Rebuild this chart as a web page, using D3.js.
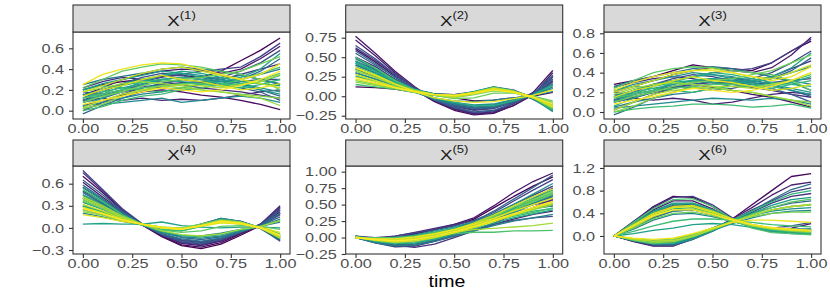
<!DOCTYPE html>
<html lang="en">
<head>
<meta charset="utf-8" />
<title>Functional covariates</title>
<script src="https://cdn.jsdelivr.net/npm/d3@7"></script>
<style>
  body { margin: 0; background: #fff; }
  text { font-family: "Liberation Sans", Arial, sans-serif; }
</style>
</head>
<body>
<div id="chart"></div>
<script>

    // time grid shared by every curve
    let times = [0, 0.1, 0.2, 0.3, 0.4, 0.5, 0.6, 0.7, 0.8, 0.9, 1.0];
    let xTicks = [0, 0.25, 0.5, 0.75, 1];

    let x1 = [
        [0.20,0.25,0.28,0.30,0.33,0.34,0.32,0.38,0.48,0.58,0.70],
        [0.05,0.10,0.15,0.18,0.20,0.18,0.15,0.13,0.10,0.06,0.01],
        [0.15,0.22,0.30,0.35,0.38,0.40,0.39,0.36,0.40,0.50,0.62],
        [0.10,0.12,0.10,0.12,0.10,0.11,0.10,0.12,0.15,0.18,0.20],
        [0.22,0.28,0.32,0.30,0.28,0.25,0.22,0.20,0.18,0.15,0.12],
        [0.00,0.08,0.16,0.22,0.25,0.27,0.28,0.30,0.35,0.40,0.45],
        [0.12,0.20,0.25,0.28,0.32,0.35,0.38,0.40,0.42,0.52,0.65],
        [0.18,0.16,0.20,0.24,0.22,0.20,0.22,0.25,0.28,0.30,0.30],
        [0.10,0.18,0.26,0.32,0.36,0.34,0.30,0.32,0.38,0.46,0.58],
        [0.08,0.12,0.18,0.22,0.26,0.30,0.28,0.25,0.22,0.18,0.10],
        [-0.03,0.05,0.12,0.18,0.24,0.26,0.27,0.28,0.30,0.38,0.50],
        [0.16,0.14,0.18,0.22,0.26,0.30,0.33,0.30,0.26,0.20,0.14],
        [0.25,0.30,0.33,0.36,0.40,0.42,0.40,0.38,0.35,0.30,0.25],
        [0.10,0.15,0.20,0.25,0.30,0.32,0.30,0.28,0.30,0.35,0.40],
        [0.04,0.08,0.12,0.16,0.18,0.22,0.26,0.30,0.34,0.30,0.26],
        [0.02,0.06,0.08,0.10,0.12,0.08,0.10,0.12,0.14,0.12,0.08],
        [0.15,0.20,0.26,0.30,0.34,0.36,0.34,0.30,0.26,0.22,0.18],
        [0.20,0.26,0.30,0.34,0.38,0.36,0.32,0.28,0.24,0.20,0.16],
        [0.20,0.24,0.22,0.26,0.30,0.28,0.26,0.28,0.32,0.40,0.55],
        [0.05,0.12,0.20,0.28,0.34,0.38,0.36,0.32,0.28,0.26,0.24],
        [0.08,0.16,0.24,0.28,0.30,0.32,0.30,0.26,0.24,0.28,0.34],
        [0.12,0.18,0.22,0.20,0.18,0.22,0.25,0.24,0.22,0.25,0.30],
        [0.00,0.04,0.10,0.14,0.16,0.20,0.22,0.25,0.30,0.36,0.42],
        [0.12,0.16,0.20,0.22,0.24,0.26,0.26,0.24,0.26,0.30,0.36],
        [0.22,0.30,0.38,0.42,0.45,0.44,0.42,0.38,0.35,0.30,0.20],
        [0.08,0.14,0.18,0.24,0.28,0.30,0.32,0.35,0.38,0.45,0.52],
        [0.02,0.06,0.14,0.20,0.24,0.22,0.20,0.18,0.16,0.14,0.12],
        [0.18,0.22,0.26,0.28,0.26,0.24,0.20,0.18,0.15,0.12,0.05],
        [0.03,0.10,0.16,0.20,0.22,0.25,0.24,0.22,0.25,0.28,0.35],
        [0.18,0.24,0.30,0.36,0.40,0.42,0.38,0.34,0.30,0.26,0.22],
        [0.14,0.20,0.24,0.30,0.34,0.30,0.28,0.24,0.20,0.22,0.26],
        [0.25,0.35,0.40,0.44,0.46,0.45,0.40,0.35,0.30,0.35,0.45],
        [0.06,0.10,0.14,0.18,0.22,0.20,0.18,0.20,0.24,0.30,0.38]
    ];

    let x2 = [
        [0.12,0.11,0.09,0.05,0.02,-0.02,-0.06,-0.05,-0.02,0.00,0.05],
        [0.60,0.44,0.26,0.08,-0.07,-0.18,-0.24,-0.22,-0.12,0.02,0.25],
        [0.77,0.55,0.32,0.12,-0.05,-0.16,-0.22,-0.20,-0.10,0.05,0.33],
        [0.72,0.52,0.30,0.10,-0.06,-0.17,-0.23,-0.21,-0.12,0.02,0.30],
        [0.50,0.38,0.22,0.08,-0.05,-0.12,-0.17,-0.15,-0.08,0.02,0.20],
        [0.30,0.22,0.14,0.07,0.03,0.02,0.05,0.11,0.07,-0.01,-0.16],
        [0.62,0.46,0.28,0.11,-0.03,-0.13,-0.18,-0.16,-0.07,0.04,0.22],
        [0.45,0.34,0.20,0.07,-0.04,-0.11,-0.15,-0.14,-0.07,0.02,0.18],
        [0.65,0.48,0.28,0.10,-0.05,-0.15,-0.21,-0.19,-0.09,0.03,0.27],
        [0.40,0.30,0.18,0.08,0.03,0.02,0.06,0.12,0.08,-0.02,-0.17],
        [0.55,0.40,0.25,0.09,-0.05,-0.14,-0.20,-0.18,-0.09,0.03,0.26],
        [0.40,0.30,0.18,0.06,-0.04,-0.10,-0.14,-0.12,-0.06,0.01,0.15],
        [0.58,0.42,0.24,0.08,-0.04,-0.12,-0.16,-0.15,-0.07,0.02,0.22],
        [0.35,0.25,0.15,0.08,0.02,0.00,0.05,0.10,0.06,-0.04,-0.18],
        [0.35,0.26,0.16,0.06,-0.03,-0.09,-0.12,-0.11,-0.05,0.01,0.12],
        [0.48,0.36,0.21,0.07,-0.04,-0.10,-0.14,-0.13,-0.06,0.02,0.16],
        [0.44,0.33,0.19,0.07,-0.02,-0.06,-0.07,-0.05,-0.02,0.01,0.06],
        [0.48,0.35,0.20,0.09,0.03,0.01,0.05,0.10,0.06,-0.03,-0.20],
        [0.30,0.22,0.14,0.05,-0.03,-0.08,-0.11,-0.10,-0.04,0.01,0.10],
        [0.42,0.30,0.17,0.08,0.03,0.01,0.05,0.11,0.07,-0.02,-0.16],
        [0.25,0.18,0.12,0.06,0.02,0.00,0.04,0.09,0.05,-0.02,-0.14],
        [0.45,0.32,0.18,0.08,0.02,0.01,0.06,0.12,0.07,-0.02,-0.19],
        [0.42,0.32,0.19,0.07,-0.02,-0.08,-0.12,-0.12,-0.06,0.02,0.14],
        [0.26,0.19,0.12,0.06,0.02,0.00,0.04,0.10,0.06,-0.01,-0.11],
        [0.15,0.12,0.09,0.05,0.01,-0.01,0.03,0.08,0.06,-0.01,-0.10],
        [0.50,0.36,0.20,0.08,0.02,-0.01,0.03,0.09,0.06,-0.02,-0.17],
        [0.38,0.28,0.16,0.08,0.02,0.00,0.04,0.09,0.06,-0.02,-0.15],
        [0.32,0.24,0.14,0.06,0.01,-0.03,-0.02,0.04,0.04,0.00,-0.06],
        [0.20,0.15,0.10,0.05,0.01,-0.02,0.02,0.07,0.05,-0.01,-0.08],
        [0.18,0.14,0.10,0.05,0.02,0.01,0.05,0.11,0.07,-0.01,-0.12],
        [0.33,0.24,0.15,0.07,0.02,0.00,0.03,0.08,0.05,-0.02,-0.14],
        [0.36,0.26,0.15,0.07,0.02,0.00,0.04,0.09,0.06,-0.02,-0.15],
        [0.28,0.20,0.12,0.06,0.02,-0.01,0.03,0.08,0.05,-0.02,-0.12],
        [0.22,0.16,0.11,0.06,0.02,0.01,0.05,0.10,0.06,-0.01,-0.13],
        [0.36,0.27,0.16,0.06,-0.02,-0.06,-0.08,-0.07,-0.03,0.01,0.08],
        [0.24,0.18,0.11,0.06,0.02,0.01,0.04,0.08,0.05,-0.01,-0.10]
    ];

    let x3 = [
        [0.28,0.32,0.36,0.42,0.48,0.45,0.44,0.42,0.50,0.62,0.72],
        [0.10,0.15,0.20,0.25,0.28,0.25,0.22,0.18,0.15,0.10,0.05],
        [0.20,0.26,0.32,0.38,0.42,0.45,0.42,0.40,0.45,0.58,0.76],
        [0.12,0.14,0.12,0.14,0.12,0.08,0.10,0.14,0.18,0.20,0.18],
        [0.25,0.30,0.34,0.36,0.34,0.30,0.28,0.25,0.22,0.18,0.15],
        [0.02,0.10,0.18,0.24,0.28,0.30,0.30,0.32,0.36,0.44,0.52],
        [0.15,0.22,0.28,0.32,0.36,0.40,0.42,0.44,0.50,0.62,0.74],
        [0.12,0.20,0.28,0.34,0.38,0.36,0.32,0.34,0.40,0.50,0.62],
        [0.20,0.18,0.22,0.26,0.25,0.22,0.24,0.28,0.30,0.32,0.34],
        [0.10,0.14,0.20,0.26,0.30,0.34,0.30,0.28,0.24,0.18,0.10],
        [0.18,0.16,0.20,0.24,0.28,0.32,0.35,0.32,0.28,0.22,0.16],
        [-0.03,0.05,0.14,0.20,0.26,0.28,0.30,0.30,0.34,0.42,0.55],
        [0.26,0.32,0.36,0.40,0.44,0.46,0.44,0.40,0.36,0.30,0.22],
        [0.05,0.10,0.14,0.18,0.20,0.24,0.28,0.32,0.36,0.32,0.28],
        [0.12,0.18,0.22,0.28,0.32,0.34,0.32,0.30,0.34,0.40,0.46],
        [0.04,0.06,0.08,0.10,0.12,0.14,0.13,0.12,0.14,0.12,0.08],
        [0.22,0.28,0.32,0.36,0.40,0.38,0.34,0.30,0.26,0.22,0.18],
        [0.16,0.22,0.28,0.32,0.36,0.38,0.36,0.32,0.28,0.24,0.20],
        [0.22,0.26,0.24,0.28,0.32,0.30,0.28,0.32,0.36,0.45,0.60],
        [0.10,0.18,0.26,0.30,0.32,0.34,0.32,0.28,0.26,0.30,0.36],
        [0.06,0.14,0.22,0.30,0.36,0.40,0.38,0.34,0.30,0.28,0.26],
        [0.14,0.20,0.24,0.22,0.20,0.24,0.26,0.26,0.24,0.28,0.32],
        [0.00,0.03,0.05,0.06,0.08,0.08,0.07,0.05,0.06,0.08,0.04],
        [0.14,0.18,0.22,0.24,0.26,0.28,0.28,0.26,0.28,0.32,0.38],
        [0.24,0.32,0.40,0.44,0.46,0.45,0.42,0.40,0.38,0.32,0.22],
        [0.10,0.16,0.20,0.26,0.30,0.32,0.34,0.38,0.42,0.50,0.58],
        [0.00,0.06,0.14,0.20,0.25,0.24,0.22,0.20,0.16,0.12,0.10],
        [0.18,0.24,0.28,0.30,0.28,0.26,0.22,0.20,0.16,0.12,0.06],
        [0.02,0.10,0.18,0.22,0.24,0.26,0.26,0.24,0.28,0.32,0.40],
        [0.20,0.26,0.32,0.38,0.42,0.44,0.40,0.36,0.34,0.40,0.48],
        [0.15,0.22,0.26,0.32,0.36,0.32,0.30,0.26,0.22,0.24,0.28],
        [0.22,0.30,0.36,0.40,0.42,0.42,0.40,0.36,0.32,0.36,0.46],
        [0.08,0.12,0.16,0.20,0.24,0.22,0.20,0.22,0.26,0.32,0.40]
    ];

    let x4 = [
        [0.55,0.38,0.20,0.04,-0.12,-0.24,-0.28,-0.22,-0.10,0.03,0.22],
        [0.70,0.48,0.24,0.05,-0.11,-0.23,-0.26,-0.20,-0.08,0.04,0.28],
        [0.62,0.42,0.22,0.04,-0.10,-0.21,-0.24,-0.18,-0.07,0.04,0.25],
        [0.30,0.22,0.12,0.04,-0.02,-0.03,0.04,0.12,0.09,0.00,-0.16],
        [0.75,0.50,0.25,0.05,-0.10,-0.20,-0.23,-0.17,-0.06,0.05,0.30],
        [0.45,0.32,0.18,0.04,-0.08,-0.17,-0.20,-0.15,-0.06,0.03,0.18],
        [0.40,0.28,0.14,0.04,-0.02,-0.02,0.05,0.13,0.09,0.00,-0.18],
        [0.78,0.52,0.26,0.06,-0.09,-0.19,-0.22,-0.16,-0.05,0.05,0.27],
        [0.50,0.36,0.20,0.05,-0.08,-0.16,-0.19,-0.14,-0.05,0.03,0.20],
        [0.25,0.18,0.10,0.04,-0.01,-0.02,0.04,0.10,0.07,0.00,-0.12],
        [0.65,0.45,0.23,0.05,-0.09,-0.18,-0.21,-0.16,-0.06,0.04,0.24],
        [0.35,0.26,0.15,0.04,-0.06,-0.13,-0.16,-0.12,-0.04,0.03,0.15],
        [0.48,0.33,0.16,0.05,-0.02,-0.03,0.04,0.12,0.08,-0.01,-0.17],
        [0.58,0.40,0.21,0.05,-0.08,-0.15,-0.18,-0.14,-0.05,0.03,0.20],
        [0.48,0.34,0.18,0.05,-0.05,-0.10,-0.11,-0.07,-0.02,0.02,0.08],
        [0.20,0.15,0.09,0.04,0.00,-0.01,0.04,0.10,0.07,0.00,-0.10],
        [0.40,0.30,0.17,0.05,-0.06,-0.12,-0.14,-0.11,-0.04,0.02,0.12],
        [0.44,0.30,0.15,0.05,-0.01,-0.02,0.04,0.11,0.08,0.00,-0.14],
        [0.55,0.38,0.18,0.05,-0.02,-0.03,0.05,0.13,0.09,0.00,-0.15],
        [0.35,0.25,0.13,0.05,0.00,-0.01,0.05,0.11,0.08,0.00,-0.14],
        [0.05,0.06,0.05,0.05,0.08,0.03,0.01,0.00,0.01,0.01,0.00],
        [0.30,0.22,0.13,0.04,-0.05,-0.10,-0.12,-0.09,-0.03,0.02,0.10],
        [0.30,0.21,0.12,0.05,0.00,-0.01,0.04,0.10,0.07,0.00,-0.12],
        [0.45,0.31,0.15,0.04,-0.02,-0.04,0.02,0.10,0.08,0.00,-0.13],
        [0.52,0.36,0.18,0.05,-0.02,-0.04,0.02,0.09,0.07,0.01,-0.10],
        [0.28,0.20,0.11,0.04,-0.01,-0.02,0.03,0.09,0.06,0.00,-0.11],
        [0.36,0.26,0.14,0.04,-0.03,-0.06,-0.04,0.02,0.03,0.02,-0.02],
        [0.38,0.26,0.13,0.04,0.00,-0.02,0.03,0.09,0.07,0.01,-0.08],
        [0.24,0.18,0.10,0.05,0.01,0.00,0.05,0.11,0.08,0.00,-0.13],
        [0.22,0.17,0.10,0.05,0.01,-0.01,0.03,0.08,0.05,0.00,-0.09],
        [0.42,0.30,0.16,0.05,-0.04,-0.09,-0.11,-0.08,-0.02,0.02,0.10],
        [0.40,0.28,0.14,0.05,0.00,-0.02,0.03,0.10,0.07,0.00,-0.14],
        [0.32,0.23,0.12,0.05,0.00,-0.02,0.03,0.10,0.07,0.00,-0.12],
        [0.18,0.14,0.09,0.05,0.01,-0.01,0.02,0.07,0.05,0.01,-0.06],
        [0.28,0.20,0.11,0.05,0.01,-0.01,0.03,0.08,0.06,0.00,-0.10],
        [0.26,0.19,0.11,0.05,0.00,-0.02,0.03,0.09,0.06,0.00,-0.10]
    ];

    let x5 = [
        [0.00,-0.05,-0.02,0.05,0.12,0.18,0.28,0.45,0.62,0.78,0.92],
        [0.02,-0.06,-0.10,-0.12,-0.05,0.05,0.15,0.28,0.42,0.58,0.75],
        [0.00,-0.03,0.00,0.06,0.12,0.20,0.30,0.48,0.68,0.85,0.98],
        [0.00,-0.08,-0.14,-0.13,-0.06,0.02,0.10,0.20,0.28,0.35,0.40],
        [0.02,0.00,0.02,0.08,0.14,0.20,0.26,0.34,0.42,0.50,0.56],
        [0.00,-0.06,-0.12,-0.15,-0.10,0.00,0.10,0.22,0.34,0.46,0.58],
        [0.00,-0.03,-0.04,0.00,0.06,0.13,0.22,0.35,0.50,0.64,0.78],
        [0.00,-0.02,0.02,0.07,0.12,0.18,0.26,0.38,0.55,0.72,0.88],
        [0.01,-0.04,-0.06,-0.04,0.02,0.08,0.16,0.26,0.36,0.44,0.50],
        [0.00,-0.07,-0.12,-0.10,-0.04,0.04,0.12,0.20,0.26,0.30,0.32],
        [0.01,-0.04,-0.06,-0.03,0.03,0.10,0.19,0.30,0.42,0.52,0.62],
        [0.02,-0.03,-0.04,0.00,0.06,0.14,0.24,0.40,0.58,0.76,0.95],
        [0.00,-0.05,-0.08,-0.06,0.00,0.08,0.18,0.30,0.44,0.55,0.64],
        [0.00,-0.02,-0.02,0.02,0.07,0.13,0.21,0.30,0.38,0.44,0.48],
        [0.00,-0.04,-0.06,-0.03,0.03,0.10,0.18,0.28,0.38,0.45,0.48],
        [0.00,-0.08,-0.13,-0.12,-0.06,0.02,0.10,0.18,0.25,0.30,0.35],
        [0.00,-0.05,-0.07,-0.05,0.01,0.08,0.17,0.28,0.40,0.52,0.64],
        [0.02,-0.02,0.00,0.04,0.10,0.16,0.24,0.36,0.50,0.66,0.82],
        [0.00,-0.05,-0.09,-0.08,-0.02,0.06,0.15,0.26,0.38,0.50,0.60],
        [0.00,-0.03,-0.04,-0.01,0.05,0.12,0.20,0.30,0.42,0.54,0.66],
        [0.00,-0.01,0.00,0.03,0.08,0.14,0.22,0.32,0.44,0.56,0.68],
        [0.01,-0.06,-0.10,-0.09,-0.03,0.05,0.13,0.22,0.30,0.36,0.42],
        [0.00,-0.04,-0.05,-0.02,0.04,0.11,0.20,0.32,0.46,0.60,0.72],
        [0.01,-0.03,-0.05,-0.02,0.04,0.11,0.18,0.26,0.34,0.40,0.44],
        [0.00,-0.02,-0.02,0.02,0.08,0.14,0.20,0.26,0.32,0.38,0.45],
        [0.00,0.00,0.00,0.02,0.04,0.06,0.08,0.08,0.10,0.10,0.11],
        [0.01,-0.05,-0.08,-0.06,-0.01,0.07,0.16,0.28,0.42,0.56,0.68],
        [0.00,-0.02,-0.03,0.01,0.06,0.12,0.20,0.30,0.42,0.54,0.66],
        [0.00,-0.03,-0.05,-0.02,0.04,0.12,0.20,0.32,0.46,0.58,0.70],
        [0.00,-0.04,-0.06,-0.04,0.01,0.08,0.16,0.25,0.34,0.42,0.50],
        [0.00,-0.02,-0.03,0.00,0.05,0.08,0.12,0.14,0.16,0.18,0.22],
        [0.00,-0.04,-0.05,-0.02,0.04,0.10,0.18,0.27,0.36,0.44,0.52],
        [0.00,-0.03,-0.04,-0.01,0.05,0.12,0.22,0.34,0.48,0.62,0.74],
        [0.01,-0.04,-0.07,-0.05,0.00,0.07,0.15,0.24,0.34,0.44,0.54],
        [0.00,-0.02,-0.02,0.01,0.06,0.12,0.20,0.29,0.40,0.50,0.60],
        [0.00,-0.03,-0.05,-0.03,0.02,0.09,0.17,0.26,0.36,0.46,0.55]
    ];

    let x6 = [
        [0.00,0.25,0.52,0.70,0.68,0.52,0.30,0.15,0.08,0.05,0.05],
        [0.00,-0.10,-0.18,-0.18,-0.05,0.10,0.30,0.55,0.80,1.05,1.10],
        [0.00,0.22,0.46,0.62,0.62,0.48,0.28,0.16,0.12,0.14,0.22],
        [0.00,-0.08,-0.16,-0.15,-0.04,0.12,0.30,0.50,0.72,0.90,0.95],
        [0.00,0.18,0.38,0.52,0.54,0.44,0.28,0.18,0.10,0.06,0.04],
        [0.00,-0.07,-0.14,-0.14,-0.04,0.10,0.26,0.42,0.58,0.70,0.75],
        [0.00,0.26,0.50,0.68,0.70,0.55,0.32,0.18,0.12,0.10,0.10],
        [0.00,-0.09,-0.17,-0.17,-0.06,0.10,0.28,0.46,0.62,0.78,0.85],
        [0.00,0.20,0.40,0.54,0.56,0.46,0.30,0.18,0.12,0.10,0.10],
        [0.00,0.15,0.32,0.44,0.46,0.38,0.26,0.18,0.14,0.18,0.24],
        [0.00,-0.06,-0.12,-0.12,-0.03,0.10,0.24,0.36,0.46,0.52,0.55],
        [0.00,-0.06,-0.10,-0.08,0.02,0.14,0.28,0.40,0.50,0.58,0.62],
        [0.00,0.20,0.42,0.56,0.56,0.44,0.28,0.16,0.10,0.08,0.08],
        [0.00,-0.08,-0.15,-0.16,-0.06,0.08,0.26,0.44,0.64,0.82,0.92],
        [0.00,0.16,0.34,0.44,0.46,0.40,0.30,0.20,0.14,0.12,0.12],
        [0.00,0.12,0.28,0.38,0.40,0.34,0.26,0.18,0.14,0.12,0.12],
        [0.00,-0.05,-0.10,-0.10,-0.02,0.10,0.22,0.32,0.40,0.44,0.45],
        [0.00,0.22,0.44,0.58,0.58,0.46,0.30,0.18,0.12,0.10,0.12],
        [0.00,-0.05,-0.08,-0.06,0.02,0.14,0.26,0.36,0.44,0.48,0.50],
        [0.00,-0.07,-0.13,-0.14,-0.05,0.09,0.25,0.40,0.54,0.64,0.68],
        [0.00,0.04,0.10,0.14,0.20,0.22,0.20,0.15,0.08,0.04,0.03],
        [0.00,0.22,0.42,0.56,0.58,0.46,0.30,0.18,0.10,0.08,0.06],
        [0.00,0.18,0.36,0.48,0.50,0.40,0.26,0.16,0.10,0.06,0.04],
        [0.00,-0.08,-0.14,-0.12,-0.02,0.12,0.28,0.44,0.60,0.74,0.80],
        [0.00,0.08,0.18,0.26,0.30,0.30,0.28,0.24,0.20,0.18,0.16],
        [0.00,0.24,0.48,0.64,0.66,0.52,0.30,0.14,0.06,0.04,0.02],
        [0.00,-0.06,-0.10,-0.08,0.00,0.12,0.26,0.38,0.50,0.60,0.65],
        [0.00,0.14,0.30,0.40,0.42,0.36,0.26,0.18,0.12,0.08,0.06],
        [0.00,-0.06,-0.09,-0.06,0.03,0.14,0.26,0.34,0.40,0.42,0.42],
        [0.00,-0.07,-0.12,-0.10,-0.01,0.11,0.25,0.36,0.46,0.52,0.56],
        [0.00,0.16,0.34,0.46,0.48,0.40,0.28,0.18,0.12,0.10,0.08],
        [0.00,-0.05,-0.09,-0.08,0.00,0.12,0.24,0.36,0.46,0.52,0.55],
        [0.00,0.20,0.40,0.52,0.54,0.44,0.30,0.20,0.14,0.12,0.10],
        [0.00,0.18,0.38,0.50,0.52,0.42,0.30,0.20,0.14,0.10,0.08],
        [0.00,-0.04,-0.06,-0.04,0.04,0.14,0.24,0.28,0.28,0.26,0.24],
        [0.00,0.18,0.36,0.46,0.46,0.38,0.28,0.20,0.15,0.12,0.10]
    ];

    // y limits (already expanded) and breaks per facet
    let yLimits = [[-0.08, 0.757], [-0.292, 0.823], [-0.071, 0.813],
                   [-0.354, 0.84], [-0.25, 1.086], [-0.318, 1.235]];
    let yBreaks = [[0, 0.2, 0.4, 0.6], [-0.25, 0, 0.25, 0.5, 0.75], [0, 0.2, 0.4, 0.6, 0.8],
                   [-0.3, 0, 0.3, 0.6], [-0.25, 0, 0.25, 0.5, 0.75, 1], [0, 0.4, 0.8, 1.2]];
    let yFormats = ['.1f', '.2f', '.1f', '.1f', '.2f', '.1f'];
    let facets = [x1, x2, x3, x4, x5, x6];

    let W = 830, H = 291;
    let colX = [73, 345.7, 604], panelW = 217;
    let rows = [{ strip: 5, top: 32, bottom: 119 }, { strip: 140, top: 166, bottom: 254 }];
    let stretch = 1.25; // the reference text is drawn wide

    let svg = d3.select('#chart')
        .append('svg')
        .attr('width', W)
        .attr('height', H);

    facets.forEach((curves, k) => {
        let c = k % 3, r = Math.floor(k / 3);
        let x0 = colX[c], row = rows[r];
        let ph = row.bottom - row.top;

        let x = d3.scaleLinear().domain([-0.05, 1.05]).range([0, panelW]);
        let y = d3.scaleLinear().domain(yLimits[k]).range([ph, 0]);

        let g = svg.append('g')
            .attr('transform', 'translate(' + x0 + ',' + row.top + ')');

        g.append('rect')
            .attr('width', panelW).attr('height', ph)
            .attr('fill', '#fff');

        let line = d3.line()
            .x((d, i) => x(times[i]))
            .y(d => y(d));

        let color = d3.scaleSequential(d3.interpolateViridis).domain([0, curves.length - 1]);

        g.selectAll('.curve')
            .data(curves)
            .enter().append('path')
            .attr('class', 'curve')
            .attr('d', line)
            .attr('fill', 'none')
            .attr('stroke', (d, i) => color(i))
            .attr('stroke-width', 1.3)
            .attr('stroke-linejoin', 'round');

        g.append('rect')
            .attr('width', panelW).attr('height', ph)
            .attr('fill', 'none')
            .attr('stroke', '#333333')
            .attr('stroke-width', 1.1);

        // axes
        let yAxis = d3.axisLeft(y)
            .tickValues(yBreaks[k])
            .tickFormat(d3.format(yFormats[k]))
            .tickSizeInner(4).tickSizeOuter(0).tickPadding(5);
        let xAxis = d3.axisBottom(x)
            .tickValues(xTicks)
            .tickFormat(d3.format('.2f'))
            .tickSizeInner(4).tickSizeOuter(0).tickPadding(1);

        let gy = g.append('g').call(yAxis);
        let gx = g.append('g').attr('transform', 'translate(0,' + ph + ')').call(xAxis);
        [gy, gx].forEach(a => {
            a.select('.domain').remove();
            a.selectAll('line').attr('stroke', '#333333').attr('stroke-width', 1.1);
            a.selectAll('text')
                .attr('fill', '#4D4D4D')
                .style('font-size', '13px')
                .style('font-family', '"Liberation Sans", Arial, sans-serif');
        });
        gy.selectAll('text')
            .attr('x', -9 / stretch)
            .attr('transform', 'scale(' + stretch + ',1)');
        gx.selectAll('text')
            .attr('transform', 'scale(' + stretch + ',1)');

        // strip
        let sg = svg.append('g')
            .attr('transform', 'translate(' + x0 + ',' + row.strip + ')');
        let sh = row.top - row.strip;
        sg.append('rect')
            .attr('width', panelW).attr('height', sh)
            .attr('fill', '#D9D9D9')
            .attr('stroke', '#333333')
            .attr('stroke-width', 1.1);
        let st = sg.append('text')
            .attr('transform', 'translate(' + (panelW / 2) + ',' + (sh / 2 + 7) + ') scale(' + stretch + ',1)')
            .attr('text-anchor', 'middle')
            .attr('fill', '#1A1A1A')
            .style('font-size', '15px');
        st.append('tspan').text('X');
        st.append('tspan')
            .attr('dy', -7)
            .style('font-size', '10.5px')
            .text('(' + (k + 1) + ')');
    });

    svg.append('text')
        .attr('transform', 'translate(' + ((colX[0] + colX[2] + panelW) / 2) + ',287) scale(1.15,1)')
        .attr('text-anchor', 'middle')
        .attr('fill', '#000')
        .style('font-size', '17px')
        .text('time');

</script>
</body>
</html>
